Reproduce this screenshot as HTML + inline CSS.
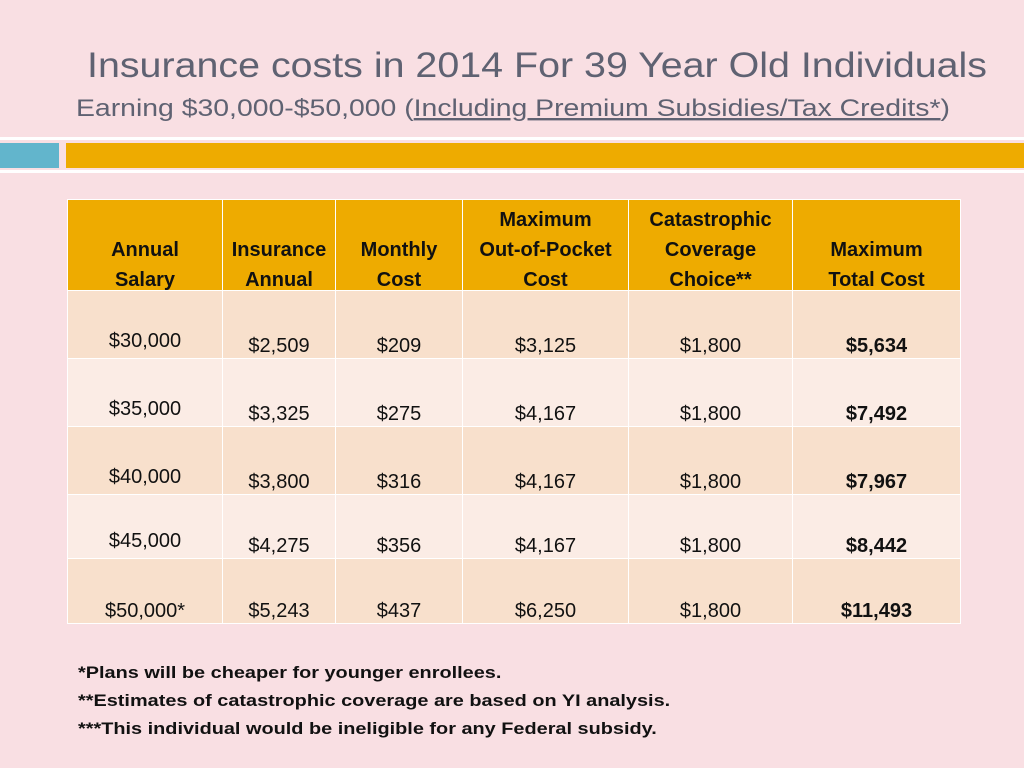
<!DOCTYPE html>
<html><head><meta charset="utf-8"><style>
body{margin:0;width:1024px;height:768px;background:#f9dfe3;position:relative;overflow:hidden;font-family:"Liberation Sans",sans-serif}
.abs{position:absolute}
table{position:absolute;left:67px;top:199px;width:893px;border-collapse:collapse;table-layout:fixed}
td,th{border:1.5px solid #fff;text-align:center;padding:0;font-size:20px;color:#111}
th{background:#eeab00;font-weight:bold;vertical-align:bottom;padding-bottom:0px;line-height:30px;height:90px;box-sizing:border-box}
th span{display:block;position:relative;top:5px}
tr.o td{background:#f8e0cc}
tr.e td{background:#fbece5}
td{vertical-align:bottom;padding-bottom:0px;line-height:23px}
td.s{padding-bottom:5px}
.notes{left:78px;top:659px;font-weight:bold;font-size:17px;line-height:28px;color:#111;transform:scaleX(1.17);transform-origin:0 0;white-space:nowrap}
</style></head><body>
<svg class="abs" style="left:0;top:0" width="1024" height="130">
<text x="87" y="77" font-size="35" fill="#5f6272" textLength="900" lengthAdjust="spacingAndGlyphs">Insurance costs in 2014 For 39 Year Old Individuals</text>
<text x="76" y="116" font-size="24" fill="#5f6272" textLength="874" lengthAdjust="spacingAndGlyphs">Earning $30,000-$50,000 (<tspan text-decoration="underline">Including Premium Subsidies/Tax Credits*</tspan>)</text>
</svg>
<div class="abs" style="left:0;top:137px;width:1024px;height:3px;background:#fff"></div>
<div class="abs" style="left:0;top:143px;width:59px;height:25px;background:#62b5cc"></div>
<div class="abs" style="left:66px;top:143px;width:958px;height:25px;background:#eeab00"></div>
<div class="abs" style="left:0;top:170px;width:1024px;height:3px;background:#fff"></div>
<table>
<colgroup><col style="width:155px"><col style="width:113px"><col style="width:127px"><col style="width:166px"><col style="width:164px"><col style="width:168px"></colgroup>
<tr><th><span>Annual<br>Salary</span></th><th><span>Insurance<br>Annual</span></th><th><span>Monthly<br>Cost</span></th><th><span>Maximum<br>Out-of-Pocket<br>Cost</span></th><th><span>Catastrophic<br>Coverage<br>Choice**</span></th><th><span>Maximum<br>Total Cost</span></th></tr>
<tr class="o" style="height:68px"><td class="s">$30,000</td><td>$2,509</td><td>$209</td><td>$3,125</td><td>$1,800</td><td><b>$5,634</b></td></tr>
<tr class="e" style="height:68px"><td class="s">$35,000</td><td>$3,325</td><td>$275</td><td>$4,167</td><td>$1,800</td><td><b>$7,492</b></td></tr>
<tr class="o" style="height:68px"><td class="s">$40,000</td><td>$3,800</td><td>$316</td><td>$4,167</td><td>$1,800</td><td><b>$7,967</b></td></tr>
<tr class="e" style="height:64px"><td class="s">$45,000</td><td>$4,275</td><td>$356</td><td>$4,167</td><td>$1,800</td><td><b>$8,442</b></td></tr>
<tr class="o" style="height:65px"><td>$50,000*</td><td>$5,243</td><td>$437</td><td>$6,250</td><td>$1,800</td><td><b>$11,493</b></td></tr>
</table>
<div class="abs notes">*Plans will be cheaper for younger enrollees.<br>**Estimates of catastrophic coverage are based on YI analysis.<br>***This individual would be ineligible for any Federal subsidy.</div>
</body></html>
